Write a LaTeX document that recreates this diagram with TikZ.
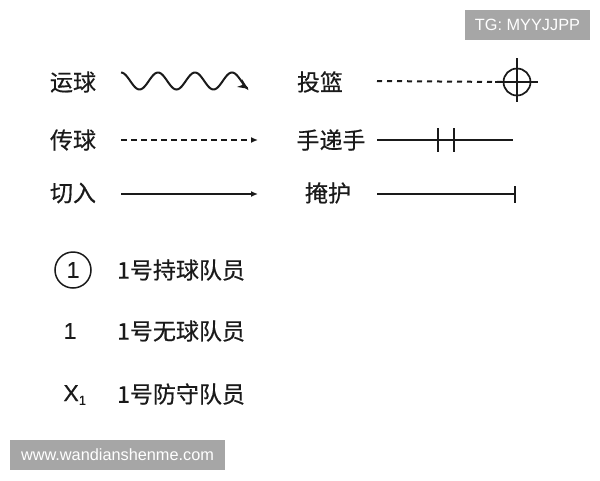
\documentclass[tikz,border=0pt]{standalone}
\usepackage{fontspec}
\setmainfont{Liberation Sans}
\newfontfamily\cjk[FakeBold=0.5]{Noto Sans CJK SC}
\newfontfamily\num[FakeBold=0.4]{Liberation Sans}
\usetikzlibrary{arrows.meta}
\definecolor{ink}{HTML}{1A1A1A}
\definecolor{wm}{HTML}{A6A6A6}
\tikzset{
  lbl/.style={font=\cjk\fontsize{23}{25}\selectfont, text=ink, inner sep=0pt},
  numlbl/.style={font=\num\fontsize{23}{25}\selectfont, text=ink, inner sep=0pt},
  ln/.style={draw=ink, line width=2pt},
  wmbox/.style={fill=wm, text=white, font=\fontsize{16.3}{18}\selectfont, inner sep=0pt, minimum height=30pt},
}
\begin{document}
\begin{tikzpicture}[x=1pt,y=-1pt]
\useasboundingbox (0,0) rectangle (600,480);
\fill[white] (0,0) rectangle (600,480);
% watermarks
\node[wmbox, minimum width=125pt] (tg) at (527.5,25) {TG: MYYJJPP};
\node[wmbox, minimum width=215pt] (www) at (117.5,455) {www.wandianshenme.com};
% left column labels
\node[lbl] (yq) at (73,82) {运球};
\node[lbl] (cq) at (73,140) {传球};
\node[lbl] (qr) at (73,193) {切入};
% dribble wave
\coordinate (w1) at (121,72.5);
\draw[ln, -{Stealth[length=10pt,width=9pt]}] plot[domain=0:127, samples=120, smooth] ({\x+121}, {81-8.5*cos(9.7297*\x)});
% pass
\coordinate (p1) at (121,140);
\coordinate (p2) at (258,140);
\draw[ln, dash pattern=on 6pt off 4pt, -{Latex[length=7pt,width=6pt]}] (p1) -- (p2);
% cut
\coordinate (c1) at (121,194);
\coordinate (c2) at (258,194);
\draw[ln, -{Latex[length=7pt,width=6pt]}] (c1) -- (c2);
% right column labels
\node[lbl] (tl) at (320,82) {投篮};
\node[lbl] (sds) at (331,140) {手递手};
\node[lbl] (yh) at (328,193) {掩护};
% shot
\node[circle, draw=ink, line width=1.7pt, minimum size=27pt, inner sep=0pt] (hoop) at (517,82) {};
\coordinate (s1) at (377,81);
\draw[ln, dash pattern=on 5pt off 5pt] (s1) -- (hoop.west);
\draw[ln] (495,82) -- (538,82);
\draw[ln] (517,58) -- (517,102);
% hand-off
\coordinate (h1) at (377,140);
\coordinate (h2) at (513,140);
\draw[ln] (h1) -- (h2);
\draw[ln] (438,128) -- (438,152);
\draw[ln] (454,128) -- (454,152);
% screen
\coordinate (sc1) at (377,194);
\coordinate (sc2) at (515,194);
\draw[ln] (sc1) -- (sc2);
\draw[ln] (515,186) -- (515,203);
% players
\node[circle, draw=ink, line width=1.5pt, minimum size=36pt, inner sep=0pt, numlbl] (pb) at (73,270) {1};
\node[lbl, anchor=west] (pbt) at (117,270) {1号持球队员};
\node[numlbl] (pn) at (70,331) {1};
\node[lbl, anchor=west] (pnt) at (117,331) {1号无球队员};
\node[numlbl] (pd) at (75,395) {X\textsubscript{\fontsize{13}{13}\selectfont 1}};
\node[lbl, anchor=west] (pdt) at (117,394) {1号防守队员};
\end{tikzpicture}
\end{document}
